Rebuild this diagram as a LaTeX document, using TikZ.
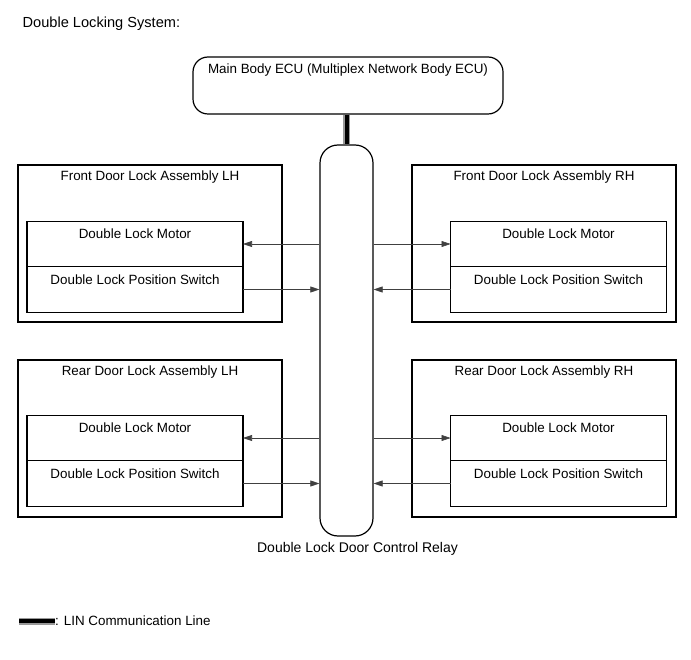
\documentclass[tikz,border=0pt]{standalone}
\usepackage{fontspec}
\setmainfont{Liberation Sans}
\usetikzlibrary{positioning,arrows.meta}

\begin{document}
\begin{tikzpicture}[x=1pt, y=-1pt, font=\fontsize{13.4}{16}\selectfont,
    dl assy/.style={rectangle, draw, line width=1.2pt, minimum width=264pt, minimum height=157pt, inner sep=0pt},
    dl part/.style={rectangle, draw, line width=1.2pt, minimum width=216pt, minimum height=45.5pt, inner sep=0pt, outer sep=0pt},
    dl title/.style={label={[anchor=center, yshift=-12.5pt]north:#1}},
    dl arrow/.style={-{Triangle[length=9pt, width=6pt]}, line width=0.6pt, black!75},
    lin bus/.style={line width=7pt, black!40, postaction={draw, line width=4pt, black}}]

    \useasboundingbox (0,0) rectangle (691,660);

    \node [anchor=west, inner sep=0pt, font=\fontsize{14.6}{17}\selectfont] (title) at (22.5,24) {Double Locking System:};

    \node [draw, line width=1.2pt, rounded corners=15pt, minimum width=310pt, minimum height=57pt,
           label={[anchor=center, yshift=-14pt]north:Main Body ECU (Multiplex Network Body ECU)}] (ecu) at (348,85.5) {};
    \node [draw, line width=1.2pt, rounded corners=18pt, minimum width=53pt, minimum height=391pt] (relay) at (346.5,340.5) {};
    \node [below=2pt of relay, xshift=11pt, font=\fontsize{14}{17}\selectfont] (relay label) {Double Lock Door Control Relay};

    % front left
    \node [dl assy, dl title=Front Door Lock Assembly LH] (flh) at (150,243.5) {};
    \node [dl part, dl title=Double Lock Motor] (flh motor) at (135,244) {};
    \node [dl part, dl title=Double Lock Position Switch, below=0pt of flh motor] (flh switch) {};
    % front right
    \node [dl assy, dl title=Front Door Lock Assembly RH] (frh) at (544,243.5) {};
    \node [dl part, dl title=Double Lock Motor] (frh motor) at (558.5,244) {};
    \node [dl part, dl title=Double Lock Position Switch, below=0pt of frh motor] (frh switch) {};
    % rear left
    \node [dl assy, dl title=Rear Door Lock Assembly LH] (rlh) at (150,438.5) {};
    \node [dl part, dl title=Double Lock Motor] (rlh motor) at (135,438) {};
    \node [dl part, dl title=Double Lock Position Switch, below=0pt of rlh motor] (rlh switch) {};
    % rear right
    \node [dl assy, dl title=Rear Door Lock Assembly RH] (rrh) at (544,438.5) {};
    \node [dl part, dl title=Double Lock Motor] (rrh motor) at (558.5,438) {};
    \node [dl part, dl title=Double Lock Position Switch, below=0pt of rrh motor] (rrh switch) {};

    \draw [dl arrow] (relay.west |- flh motor) -- (flh motor.east);
    \draw [dl arrow] (flh switch.east) -- (relay.west |- flh switch);
    \draw [dl arrow] (relay.east |- frh motor) -- (frh motor.west);
    \draw [dl arrow] (frh switch.west) -- (relay.east |- frh switch);
    \draw [dl arrow] (relay.west |- rlh motor) -- (rlh motor.east);
    \draw [dl arrow] (rlh switch.east) -- (relay.west |- rlh switch);
    \draw [dl arrow] (relay.east |- rrh motor) -- (rrh motor.west);
    \draw [dl arrow] (rrh switch.west) -- (relay.east |- rrh switch);

    \draw [lin bus] (relay.north |- ecu.south) -- (relay.north);

    % legend
    \coordinate (lin a) at (19,621);
    \coordinate (lin b) at (55,621);
    \draw [lin bus] (lin a) -- (lin b);
    \node [anchor=west, inner sep=0pt] (lin text) at (lin b) {: LIN Communication Line};
\end{tikzpicture}
\end{document}
